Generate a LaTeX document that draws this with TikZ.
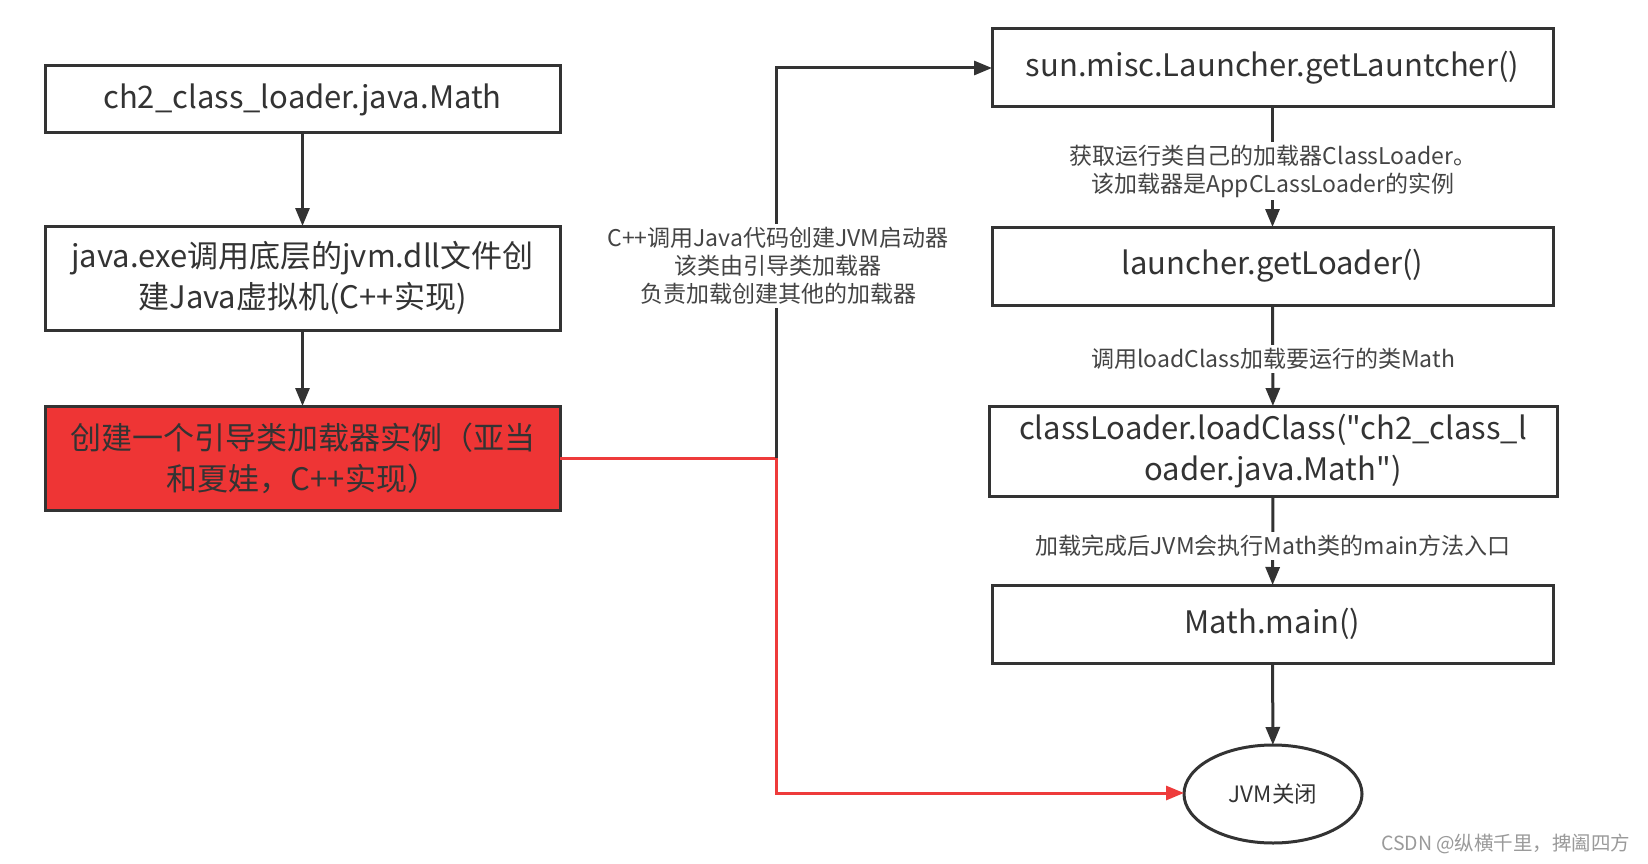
\documentclass[tikz,border=0pt]{standalone}
\usepackage{fontspec}
\setmainfont{Noto Sans CJK SC}[Ligatures=TeXOff]
\usetikzlibrary{arrows.meta,shapes.geometric}
\definecolor{ink}{HTML}{333333}
\definecolor{lbl}{HTML}{444444}
\definecolor{wmgray}{HTML}{9A9A9A}
\definecolor{redfill}{HTML}{EE3535}
\definecolor{redline}{HTML}{EE3B3B}
\begin{document}
\begin{tikzpicture}[x=1pt,y=-1pt,
  box/.style={draw=ink,line width=3pt,rectangle,inner sep=0pt,outer sep=0pt,align=center,
    font=\fontsize{31}{41}\selectfont,text=ink},
  conn/.style={draw=ink,line width=3pt,-{Triangle[length=18pt,width=14pt]}},
  rconn/.style={draw=redline,line width=3pt,-{Triangle[length=18pt,width=14pt]}},
  lab/.style={fill=white,inner sep=3pt,align=center,text=lbl,font=\fontsize{23}{28}\selectfont},
]
\useasboundingbox[fill=white] (0,0) rectangle (1648,864);
% left column
\node[box,minimum width=515pt,minimum height=67pt] (b1) at (302.5,99.5) {ch2\_class\_loader.java.Math};
\node[box,minimum width=515pt,minimum height=104pt] (b2) at (302.5,278) {java.exe调用底层的jvm.dll文件创\\建Java虚拟机(C++实现)};
\node[box,fill=redfill,minimum width=515pt,minimum height=104pt] (b3) at (302.5,458) {创建一个引导类加载器实例（亚当\\和夏娃，C++实现）};
% right column
\node[box,minimum width=561pt,minimum height=78pt] (r1) at (1272.5,68) {sun.misc.Launcher.getLauntcher()};
\node[box,minimum width=561pt,minimum height=78pt] (r2) at (1272.5,266) {launcher.getLoader()};
\node[box,minimum width=568pt,minimum height=90pt] (r3) at (1273,451) {classLoader.loadClass("ch2\_class\_l\\oader.java.Math")};
\node[box,minimum width=561pt,minimum height=78pt] (r4) at (1272.5,624) {Math.main()};
\node[draw=ink,line width=3pt,ellipse,minimum width=178pt,minimum height=98pt,inner sep=0pt,outer sep=0pt,
  text=ink,font=\fontsize{22.5}{26}\selectfont] (e) at (1273,794) {JVM关闭};
% coordinates
\coordinate (j) at (776,458);
\coordinate (jt) at (776,68);
\coordinate (jb) at (776,793);
% left arrows
\draw[conn] (b1) -- (b2);
\draw[conn] (b2) -- (b3);
% right arrows
\draw[conn] (r1) -- (r2);
\draw[conn] (r2) -- (r3);
\draw[conn] (r3) -- (r4);
\draw[conn] (r4) -- (e);
\node[lab] (l1) at (1273,171) {获取运行类自己的加载器ClassLoader。\\该加载器是AppCLassLoader的实例};
\node[lab] (l2) at (1273,359) {调用loadClass加载要运行的类Math};
\node[lab] (l3) at (1273,546) {加载完成后JVM会执行Math类的main方法入口};
% red path
\draw[rconn] (b3.east |- j) -- (j) -- (jb) -- (e.west |- jb);
% black path
\draw[conn] (j) -- (jt) -- (r1.west |- jt);
\node[lab] (l0) at (778,266) {C++调用Java代码创建JVM启动器\\该类由引导类加载器\\负责加载创建其他的加载器};
% watermark
\node[text=wmgray,font=\fontsize{19.5}{22}\selectfont,anchor=east] (wm) at (1634,844) {CSDN @纵横千里，捭阖四方};
\end{tikzpicture}
\end{document}
